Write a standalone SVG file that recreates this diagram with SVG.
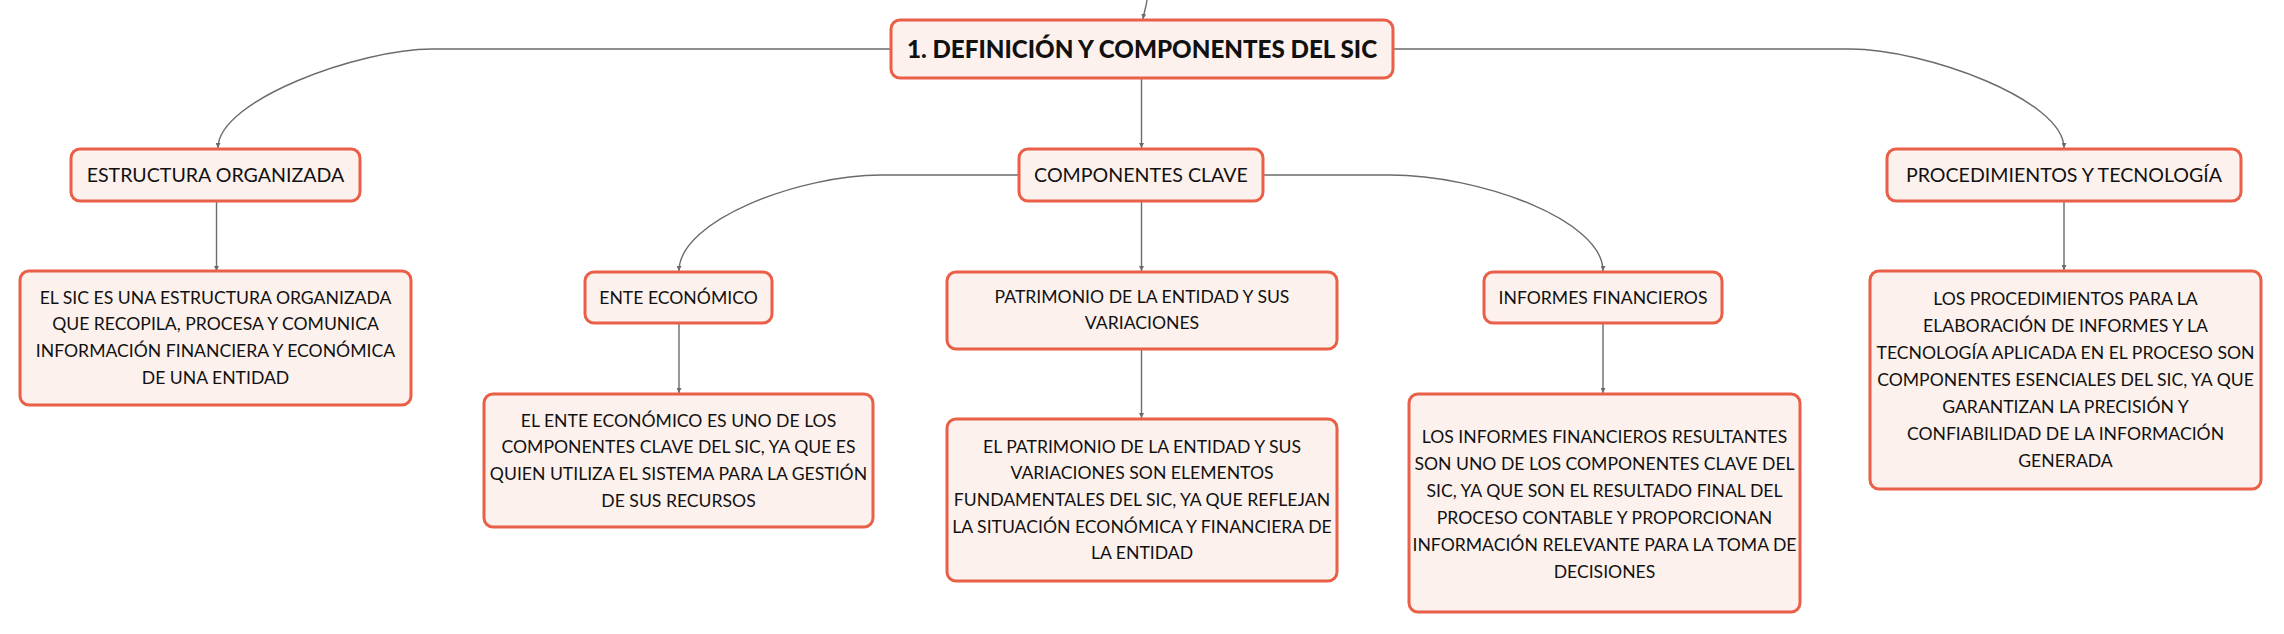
<svg xmlns="http://www.w3.org/2000/svg" width="2284" height="634" viewBox="0 0 2284 634">
<defs>
<style>
.box{fill:#FDF1ED;stroke:#EA5F48;stroke-width:3}
.t{font-family:Lato,"Open Sans","Liberation Sans",sans-serif;fill:#111;text-anchor:middle}
.l2{font-size:19.6px}
.l3{font-size:17.6px}
.root{font-size:24.2px;font-weight:900}
.c{fill:none;stroke:#6b6b6b;stroke-width:1.4}
</style>
<marker id="ar" viewBox="0 0 6 6" refX="6" refY="3" markerWidth="5" markerHeight="5" orient="auto" markerUnits="userSpaceOnUse">
<path d="M0,0 L6,3 L0,6 z" fill="#6b6b6b"/>
</marker>
</defs>
<rect width="2284" height="634" fill="#fff"/>
<g id="connectors">
<path class="c" marker-end="url(#ar)" d="M1147,0 C1146,8 1144,12 1143,19"/>
<path class="c" marker-end="url(#ar)" d="M891,49 L432,49 C360,49 218,100 218,148"/>
<path class="c" marker-end="url(#ar)" d="M1393,49 L1850,49 C1925,49 2064,100 2064,148"/>
<path class="c" marker-end="url(#ar)" d="M1141.5,79 L1141.5,148"/>
<path class="c" marker-end="url(#ar)" d="M1018,175 L881,175 C800,175 679,220 679,271"/>
<path class="c" marker-end="url(#ar)" d="M1264,175 L1390,175 C1480,175 1603,220 1603,271"/>
<path class="c" marker-end="url(#ar)" d="M1141.5,202 L1141.5,271"/>
<path class="c" marker-end="url(#ar)" d="M216.5,202 L216.5,271"/>
<path class="c" marker-end="url(#ar)" d="M2064,202 L2064,270"/>
<path class="c" marker-end="url(#ar)" d="M679,323 L679,393"/>
<path class="c" marker-end="url(#ar)" d="M1141.5,349 L1141.5,418"/>
<path class="c" marker-end="url(#ar)" d="M1603,323 L1603,393"/>
</g>
<g id="root">
<rect class="box" x="891" y="20" width="502" height="58" rx="9"/>
<text class="t root" x="1142" y="57.5">1. DEFINICIÓN Y COMPONENTES DEL SIC</text>
</g>
<g id="estructura">
<rect class="box" x="71" y="149" width="289" height="52" rx="9"/>
<text class="t l2" x="215.5" y="182">ESTRUCTURA ORGANIZADA</text>
</g>
<g id="componentes">
<rect class="box" x="1019" y="149" width="244" height="52" rx="9"/>
<text class="t l2" x="1141" y="182">COMPONENTES CLAVE</text>
</g>
<g id="procedimientos">
<rect class="box" x="1887" y="149" width="354" height="52" rx="9"/>
<text class="t l2" x="2064" y="182">PROCEDIMIENTOS Y TECNOLOGÍA</text>
</g>
<g id="estructura-desc">
<rect class="box" x="20" y="271" width="391" height="134" rx="9"/>
<text class="t l3" x="215.5" y="303.5">EL SIC ES UNA ESTRUCTURA ORGANIZADA</text>
<text class="t l3" x="215.5" y="330.2">QUE RECOPILA, PROCESA Y COMUNICA</text>
<text class="t l3" x="215.5" y="356.9">INFORMACIÓN FINANCIERA Y ECONÓMICA</text>
<text class="t l3" x="215.5" y="383.6">DE UNA ENTIDAD</text>
</g>
<g id="ente">
<rect class="box" x="585" y="272" width="187" height="51" rx="9"/>
<text class="t l3" x="678.5" y="303.5">ENTE ECONÓMICO</text>
</g>
<g id="patrimonio">
<rect class="box" x="947" y="272" width="390" height="77" rx="9"/>
<text class="t l3" x="1142" y="302.5">PATRIMONIO DE LA ENTIDAD Y SUS</text>
<text class="t l3" x="1142" y="329">VARIACIONES</text>
</g>
<g id="informes">
<rect class="box" x="1484" y="272" width="238" height="51" rx="9"/>
<text class="t l3" x="1603" y="303.5">INFORMES FINANCIEROS</text>
</g>
<g id="procedimientos-desc">
<rect class="box" x="1870" y="271" width="391" height="218" rx="9"/>
<text class="t l3" x="2065.5" y="304.5">LOS PROCEDIMIENTOS PARA LA</text>
<text class="t l3" x="2065.5" y="331.5">ELABORACIÓN DE INFORMES Y LA</text>
<text class="t l3" x="2065.5" y="358.5">TECNOLOGÍA APLICADA EN EL PROCESO SON</text>
<text class="t l3" x="2065.5" y="385.5">COMPONENTES ESENCIALES DEL SIC, YA QUE</text>
<text class="t l3" x="2065.5" y="412.5">GARANTIZAN LA PRECISIÓN Y</text>
<text class="t l3" x="2065.5" y="439.5">CONFIABILIDAD DE LA INFORMACIÓN</text>
<text class="t l3" x="2065.5" y="466.5">GENERADA</text>
</g>
<g id="ente-desc">
<rect class="box" x="484" y="394" width="389" height="133" rx="9"/>
<text class="t l3" x="678.5" y="426.5">EL ENTE ECONÓMICO ES UNO DE LOS</text>
<text class="t l3" x="678.5" y="453.2">COMPONENTES CLAVE DEL SIC, YA QUE ES</text>
<text class="t l3" x="678.5" y="479.9">QUIEN UTILIZA EL SISTEMA PARA LA GESTIÓN</text>
<text class="t l3" x="678.5" y="506.6">DE SUS RECURSOS</text>
</g>
<g id="patrimonio-desc">
<rect class="box" x="947" y="419" width="390" height="162" rx="9"/>
<text class="t l3" x="1142" y="452.5">EL PATRIMONIO DE LA ENTIDAD Y SUS</text>
<text class="t l3" x="1142" y="479.2">VARIACIONES SON ELEMENTOS</text>
<text class="t l3" x="1142" y="505.9">FUNDAMENTALES DEL SIC, YA QUE REFLEJAN</text>
<text class="t l3" x="1142" y="532.6">LA SITUACIÓN ECONÓMICA Y FINANCIERA DE</text>
<text class="t l3" x="1142" y="559.3">LA ENTIDAD</text>
</g>
<g id="informes-desc">
<rect class="box" x="1409" y="394" width="391" height="218" rx="9"/>
<text class="t l3" x="1604.5" y="442.5">LOS INFORMES FINANCIEROS RESULTANTES</text>
<text class="t l3" x="1604.5" y="469.5">SON UNO DE LOS COMPONENTES CLAVE DEL</text>
<text class="t l3" x="1604.5" y="496.5">SIC, YA QUE SON EL RESULTADO FINAL DEL</text>
<text class="t l3" x="1604.5" y="523.5">PROCESO CONTABLE Y PROPORCIONAN</text>
<text class="t l3" x="1604.5" y="550.5">INFORMACIÓN RELEVANTE PARA LA TOMA DE</text>
<text class="t l3" x="1604.5" y="577.5">DECISIONES</text>
</g>
</svg>
